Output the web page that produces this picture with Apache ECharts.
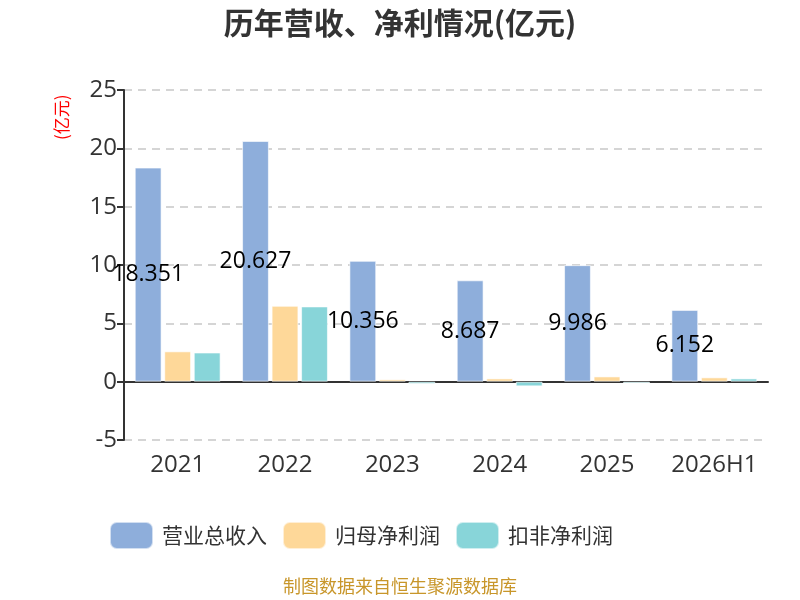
<!DOCTYPE html>
<html><head><meta charset="utf-8">
<script src="https://cdn.jsdelivr.net/npm/echarts@6/dist/echarts.min.js"></script>
<style>html,body{margin:0;padding:0;background:#fff}#c{width:800px;height:600px}</style>
</head><body><div id="c"></div>
<script>
var categories = ['2021','2022','2023','2024','2025','2026H1'];
var revenue = [18.351, 20.627, 10.356, 8.687, 9.986, 6.152];
var netProfit = [2.6, 6.5, 0.2, 0.28, 0.45, 0.37];
var deductedProfit = [2.5, 6.45, -0.2, -0.4, -0.15, 0.28];
var yTicks = { min: -5, max: 25, interval: 5 };

var font = '"Open Sans","Noto Sans CJK SC",sans-serif';
var cjk = '"Noto Sans CJK SC",sans-serif';
var chart = echarts.init(document.getElementById('c'));
chart.setOption({
  animation: false,
  title: { text: '历年营收、净利情况(亿元)', left: 'center', top: 3,
    textStyle: { fontSize: 30, fontWeight: 'bold', color: '#333', fontFamily: cjk } },
  grid: { left: 124, right: 32, top: 90, bottom: 160 },
  legend: { bottom: 45, left: 104, itemWidth: 43, itemHeight: 27, itemGap: 15,
    textStyle: { fontSize: 21, color: '#333', fontFamily: cjk, padding: [0,0,0,4] },
    data: ['营业总收入','归母净利润','扣非净利润'] },
  graphic: [
    { type: 'text', left: 'center', top: 577, style: { text: '制图数据来自恒生聚源数据库', fill: '#c8962a', fontSize: 18, fontFamily: cjk } },
    { type: 'text', x: 53, y: 140, rotation: Math.PI/2, style: { text: '(亿元)', fill: '#ff0000', fontSize: 17, fontFamily: cjk } }
  ],
  xAxis: { type: 'category', data: categories,
    axisLine: { onZero: true, lineStyle: { color: '#333', width: 2 } },
    axisTick: { length: 10, lineStyle: { color: '#333', width: 2 } },
    axisLabel: { interval: 0, margin: 13, fontSize: 24, color: '#333', fontFamily: font } },
  yAxis: { type: 'value', min: yTicks.min, max: yTicks.max, interval: yTicks.interval,
    axisLine: { show: true, lineStyle: { color: '#333', width: 2 } },
    axisTick: { show: true, length: 7, lineStyle: { color: '#333', width: 2 } },
    axisLabel: { fontSize: 24, color: '#333', margin: 7, fontFamily: font },
    splitLine: { lineStyle: { type: [8, 6], color: '#c8c8c8', width: 1.5 } } },
  series: [
    { name: '营业总收入', type: 'bar', data: revenue, barGap: '10%', barCategoryGap: '20%',
      itemStyle: { color: '#8eaedb', borderColor: 'rgba(255,255,255,0.6)', borderWidth: 1 },
      label: { show: true, position: 'inside', color: '#000', fontSize: 23, fontFamily: font } },
    { name: '归母净利润', type: 'bar', data: netProfit,
      itemStyle: { color: '#fed899', borderColor: 'rgba(255,255,255,0.6)', borderWidth: 1 } },
    { name: '扣非净利润', type: 'bar', data: deductedProfit,
      itemStyle: { color: '#88d5d9', borderColor: 'rgba(255,255,255,0.6)', borderWidth: 1 } }
  ]
});
</script></body></html>
